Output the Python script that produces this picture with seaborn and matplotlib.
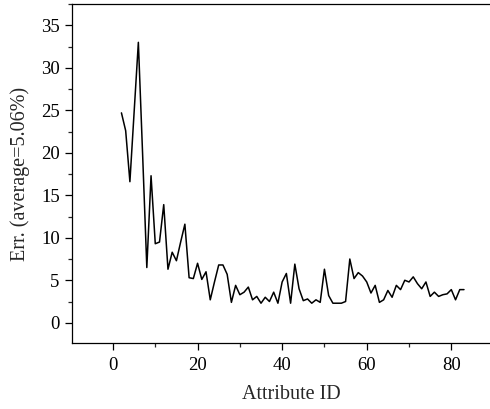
import matplotlib
matplotlib.use("Agg")
import matplotlib.pyplot as plt
import seaborn as sns
import pandas as pd
from matplotlib.ticker import MultipleLocator

# Attribute IDs and error values
attribute_id = list(range(2, 84))
err = [
    24.7, 22.6, 16.6, 24.8, 33.0, 19.9, 6.5, 17.3, 9.3, 9.5,
    13.9, 6.3, 8.3, 7.3, 9.5, 11.6, 5.3, 5.2, 7.0, 5.1,
    6.0, 2.7, 4.8, 6.8, 6.8, 5.7, 2.4, 4.4, 3.3, 3.6,
    4.2, 2.7, 3.1, 2.3, 3.0, 2.5, 3.6, 2.3, 4.8, 5.8,
    2.3, 6.9, 4.0, 2.6, 2.8, 2.3, 2.7, 2.4, 6.3, 3.2,
    2.3, 2.3, 2.3, 2.5, 7.5, 5.2, 5.9, 5.5, 4.8, 3.5,
    4.4, 2.4, 2.7, 3.8, 3.0, 4.4, 3.9, 5.0, 4.8, 5.4,
    4.6, 4.0, 4.8, 3.1, 3.6, 3.1, 3.3, 3.4, 3.9, 2.7,
    3.9, 3.9,
]
x_label = "Attribute ID"
y_label = "Err. (average=5.06%)"

df = pd.DataFrame({"id": attribute_id, "err": err})

sns.set_style("ticks")
plt.rcParams['font.family'] = ['Liberation Serif', 'DejaVu Serif']

fig = plt.figure(figsize=(4.9, 4.09), dpi=100)
ax = fig.add_axes([0.146, 0.161, 0.895, 0.829])

sns.lineplot(data=df, x="id", y="err", color="black", linewidth=1.1, ax=ax)

ax.set_xlim(-9.8, 93.9)
ax.set_ylim(-2.4, 37.5)

# major / minor ticks pointing out
ax.xaxis.set_major_locator(MultipleLocator(20))
ax.xaxis.set_minor_locator(MultipleLocator(10))
ax.yaxis.set_major_locator(MultipleLocator(5))
ax.yaxis.set_minor_locator(MultipleLocator(2.5))
ax.tick_params(which="major", direction="out", length=5, width=0.9, labelsize=13.5, colors="black")
ax.tick_params(which="minor", direction="out", length=3, width=0.9)
ax.tick_params(axis="x", which="major", pad=5)

for s in ax.spines.values():
    s.set_linewidth(0.9)
    s.set_color("black")

ax.set_xlabel(x_label, fontsize=14.5, labelpad=8)
ax.set_ylabel(y_label, fontsize=14.5, labelpad=8)

fig.savefig("out.png", dpi=100)
